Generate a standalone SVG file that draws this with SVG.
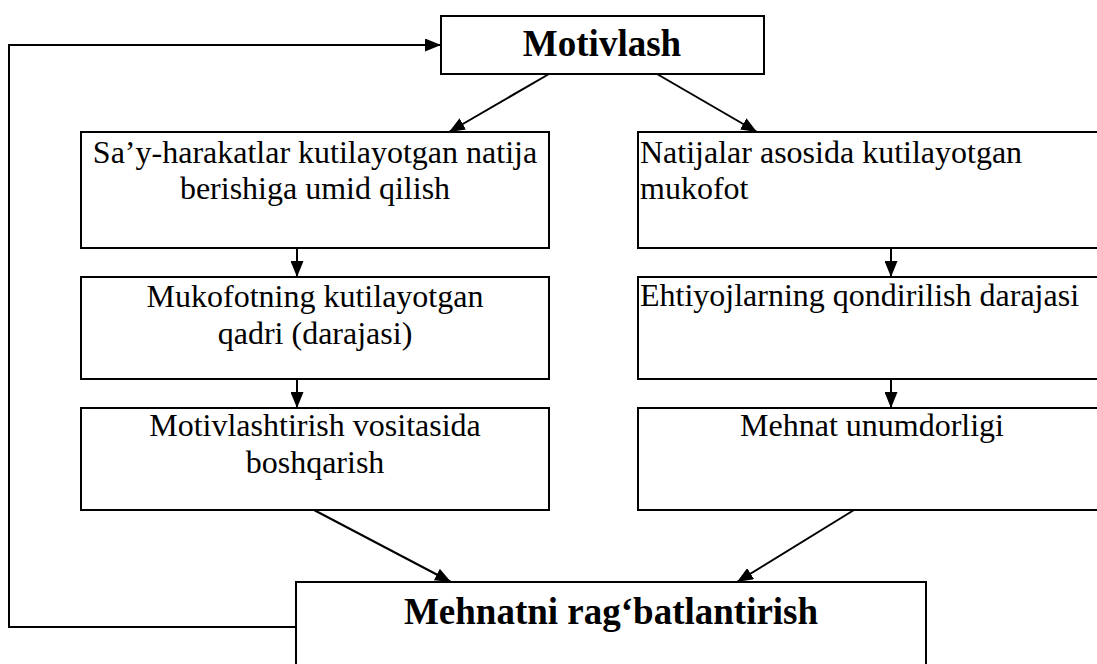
<svg xmlns="http://www.w3.org/2000/svg" width="1097" height="664" viewBox="0 0 1097 664">
<style>
.box{fill:#fff;stroke:#000;stroke-width:2}
.t{font-family:"Liberation Serif","Times New Roman",serif;font-size:32px;fill:#000}
.c{text-anchor:middle}
.b{font-weight:bold;font-size:37px}
.ln{fill:none;stroke:#000;stroke-width:2}
</style>
<defs>
<marker id="ah" markerUnits="userSpaceOnUse" viewBox="0 0 16 13" refX="16" refY="6.5" markerWidth="16" markerHeight="13" orient="auto">
<path d="M0,0 L16,6.5 L0,13 z" fill="#000"/>
</marker>
</defs>
<rect width="1097" height="664" fill="#fff"/>
<g id="connectors">
<polyline class="ln" points="296,627 9,627 9,45 441,45" marker-end="url(#ah)"/>
<line class="ln" x1="549" y1="74" x2="449" y2="132" marker-end="url(#ah)"/>
<line class="ln" x1="657" y1="74" x2="757" y2="132" marker-end="url(#ah)"/>
<line class="ln" x1="297" y1="248" x2="297" y2="277" marker-end="url(#ah)"/>
<line class="ln" x1="297" y1="379" x2="297" y2="408" marker-end="url(#ah)"/>
<line class="ln" x1="891" y1="248" x2="891" y2="277" marker-end="url(#ah)"/>
<line class="ln" x1="891" y1="379" x2="891" y2="408" marker-end="url(#ah)"/>
<line class="ln" x1="314" y1="510" x2="451" y2="582" marker-end="url(#ah)"/>
<line class="ln" x1="854" y1="510" x2="737" y2="582" marker-end="url(#ah)"/>
</g>
<g id="motivlash">
<rect class="box" x="441" y="16" width="323" height="58"/>
<text class="t c b" x="602" y="56">Motivlash</text>
</g>
<g id="sayharakat">
<rect class="box" x="81" y="132" width="468" height="116"/>
<text class="t c" x="315" y="163">Sa’y-harakatlar kutilayotgan natija</text>
<text class="t c" x="315" y="199">berishiga umid qilish</text>
</g>
<g id="mukofot-qadri">
<rect class="box" x="81" y="277" width="468" height="102"/>
<text class="t c" x="315" y="307">Mukofotning kutilayotgan</text>
<text class="t c" x="315" y="344">qadri (darajasi)</text>
</g>
<g id="boshqarish">
<rect class="box" x="81" y="408" width="468" height="102"/>
<text class="t c" x="315" y="436">Motivlashtirish vositasida</text>
<text class="t c" x="315" y="473">boshqarish</text>
</g>
<g id="natijalar">
<rect class="box" x="638" y="132" width="470" height="116"/>
<text class="t" x="640" y="163">Natijalar asosida kutilayotgan</text>
<text class="t" x="640" y="199">mukofot</text>
</g>
<g id="ehtiyojlar">
<rect class="box" x="638" y="277" width="470" height="102"/>
<text class="t" x="640" y="306">Ehtiyojlarning qondirilish darajasi</text>
</g>
<g id="unumdorlik">
<rect class="box" x="638" y="408" width="470" height="102"/>
<text class="t c" x="872" y="436">Mehnat unumdorligi</text>
</g>
<g id="ragbat">
<rect class="box" x="296" y="582" width="630" height="100"/>
<text class="t c b" x="611" y="624">Mehnatni rag‘batlantirish</text>
</g>
</svg>
